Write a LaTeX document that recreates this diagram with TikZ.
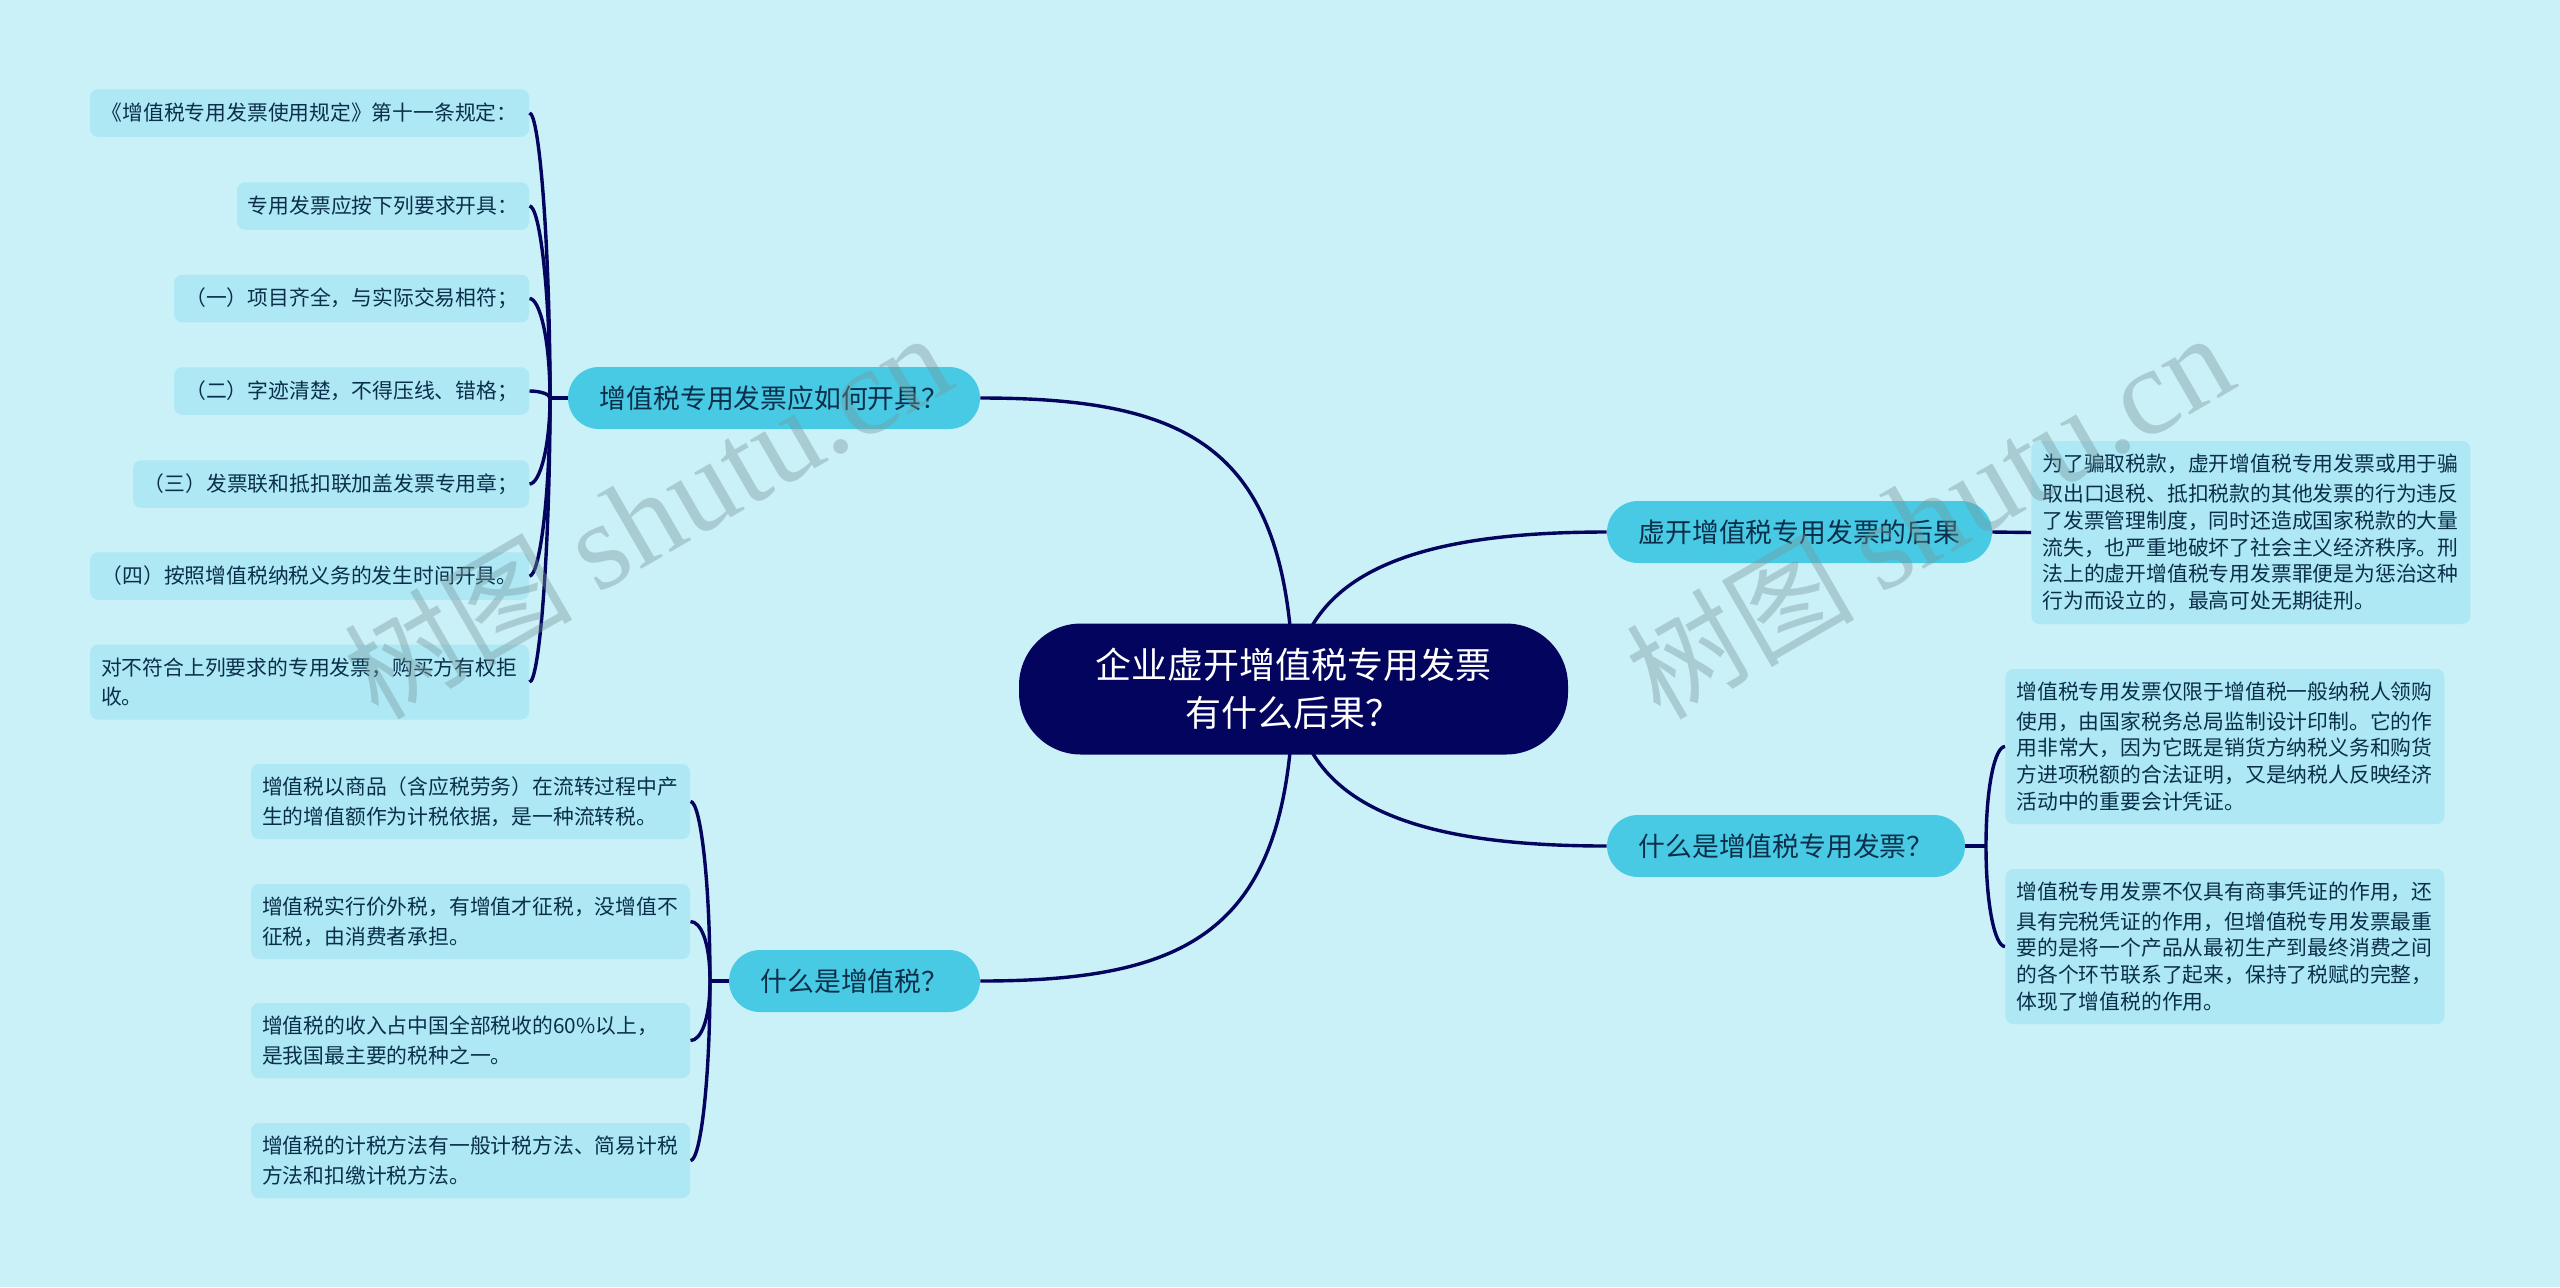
\documentclass[tikz,border=0pt]{standalone}
\usepackage{fontspec}
\setmainfont{Noto Sans CJK SC}
\newfontfamily\wmfont{Liberation Serif}
\usetikzlibrary{backgrounds}
\definecolor{bgblue}{HTML}{CAF0F8}
\definecolor{leafblue}{HTML}{ADE8F4}
\definecolor{hubblue}{HTML}{48CAE4}
\definecolor{navy}{HTML}{03045E}
\definecolor{inkdark}{HTML}{0B2F4A}
\definecolor{wmgrey}{RGB}{118,151,154}
\tikzset{
    root/.style={fill=navy, text=white, align=center, rounded corners=31pt, minimum width=274.5pt, minimum height=65.5pt, font=\fontsize{18}{24}\selectfont},
    hub/.style={fill=hubblue, text=inkdark, rounded corners=15.5pt, minimum width=#1, minimum height=31pt, inner sep=0pt, font=\fontsize{13.4}{16}\selectfont},
    leaf/.style 2 args={fill=leafblue, text=inkdark, rounded corners=4pt, align=left, text width=#1, minimum height=#2, inner xsep=5.5pt, inner ysep=0pt, font=\fontsize{10.4}{13.4}\selectfont, execute at begin node={\vspace*{1.4pt}}},
    leafline/.style={fill=leafblue, text=inkdark, rounded corners=4pt, minimum width=#1, minimum height=23.75pt, inner sep=0pt, anchor=east, font=\fontsize{10.4}{13.4}\selectfont},
    link/.style={draw=navy, line width=1.7pt},
    wm/.style={text=wmgrey, opacity=0.4, rotate=30, inner sep=0pt}
}
\begin{document}
\begin{tikzpicture}[x=0.5pt,y=-0.5pt]
    \useasboundingbox (0,0) rectangle (2560,1287);
    \node[root] (root) at (1293.5,689) {企业虚开增值税专用发票\\有什么后果？};
    % hubs
    \node[hub=206pt] (hubA) at (774,398) {增值税专用发票应如何开具？};
    \node[hub=125.5pt] (hubB) at (854.5,981) {什么是增值税？};
    \node[hub=192.5pt] (hubC) at (1799.5,532) {虚开增值税专用发票的后果};
    \node[hub=179pt] (hubD) at (1786,846) {什么是增值税专用发票？};
    % leaves of hubA
    \node[leafline=219.5pt] (a1) at (529.5,113) {《增值税专用发票使用规定》第十一条规定：};
    \node[leafline=146pt] (a2) at (529.5,206) {专用发票应按下列要求开具：};
    \node[leafline=177.5pt] (a3) at (529.5,298.5) {（一）项目齐全，与实际交易相符；};
    \node[leafline=177.5pt] (a4) at (529.5,391) {（二）字迹清楚，不得压线、错格；};
    \node[leafline=198pt] (a5) at (529.5,484) {（三）发票联和抵扣联加盖发票专用章；};
    \node[leafline=219.5pt] (a6) at (529.5,576) {（四）按照增值税纳税义务的发生时间开具。};
    \node[leaf={208.5pt}{37.5pt}, anchor=east] (a7) at (529.5,682) {对不符合上列要求的专用发票，购买方有权拒\\收。};
    % leaves of hubB
    \node[leaf={208.5pt}{37.5pt}, anchor=east] (b1) at (690.5,801.5) {增值税以商品（含应税劳务）在流转过程中产\\生的增值额作为计税依据，是一种流转税。};
    \node[leaf={208.5pt}{37.5pt}, anchor=east] (b2) at (690.5,921.5) {增值税实行价外税，有增值才征税，没增值不\\征税，由消费者承担。};
    \node[leaf={208.5pt}{37.5pt}, anchor=east] (b3) at (690.5,1040.5) {增值税的收入占中国全部税收的60\%以上，\\是我国最主要的税种之一。};
    \node[leaf={208.5pt}{37.5pt}, anchor=east] (b4) at (690.5,1160.5) {增值税的计税方法有一般计税方法、简易计税\\方法和扣缴计税方法。};
    % leaf of hubC
    \node[leaf={208.5pt}{91.5pt}, anchor=west] (c1) at (2031,532.5) {为了骗取税款，虚开增值税专用发票或用于骗\\取出口退税、抵扣税款的其他发票的行为违反\\了发票管理制度，同时还造成国家税款的大量\\流失，也严重地破坏了社会主义经济秩序。刑\\法上的虚开增值税专用发票罪便是为惩治这种\\行为而设立的，最高可处无期徒刑。};
    % leaves of hubD
    \node[leaf={208.5pt}{77.5pt}, anchor=west] (d1) at (2005,746.5) {增值税专用发票仅限于增值税一般纳税人领购\\使用，由国家税务总局监制设计印制。它的作\\用非常大，因为它既是销货方纳税义务和购货\\方进项税额的合法证明，又是纳税人反映经济\\活动中的重要会计凭证。};
    \node[leaf={208.5pt}{77.5pt}, anchor=west] (d2) at (2005,946.5) {增值税专用发票不仅具有商事凭证的作用，还\\具有完税凭证的作用，但增值税专用发票最重\\要的是将一个产品从最初生产到最终消费之间\\的各个环节联系了起来，保持了税赋的完整，\\体现了增值税的作用。};
    % trunks
    \coordinate (trunkA) at (550,398);
    \coordinate (trunkB) at (710,981);
    \coordinate (trunkD) at (1986,846);
    \begin{pgfonlayer}{background}
        \fill[bgblue] (0,0) rectangle (2560,1287);
        % root to hubs
        \draw[link] (root.center) .. controls (1290,450) and (1195,398) .. (hubA.east);
        \draw[link] (root.center) .. controls (1290,928) and (1195,981) .. (hubB.east);
        \draw[link] (root.center) .. controls (1302,570) and (1420,532) .. (hubC.west);
        \draw[link] (root.center) .. controls (1302,808) and (1420,846) .. (hubD.west);
    \end{pgfonlayer}
    % hubA to its leaves
    \draw[link] (hubA.west) -- (trunkA);
    \draw[link] (trunkA) .. controls +(0,-150) and +(10,0) .. (a1.east);
    \draw[link] (trunkA) .. controls +(0,-110) and +(10,0) .. (a2.east);
    \draw[link] (trunkA) .. controls +(0,-60) and +(10,0) .. (a3.east);
    \draw[link] (trunkA) .. controls +(0,-4) and +(10,0) .. (a4.east);
    \draw[link] (trunkA) .. controls +(0,50) and +(10,0) .. (a5.east);
    \draw[link] (trunkA) .. controls +(0,100) and +(10,0) .. (a6.east);
    \draw[link] (trunkA) .. controls +(0,150) and +(10,0) .. (a7.east);
    % hubB to its leaves
    \draw[link] (hubB.west) -- (trunkB);
    \draw[link] (trunkB) .. controls +(0,-100) and +(10,0) .. (b1.east);
    \draw[link] (trunkB) .. controls +(0,-40) and +(10,0) .. (b2.east);
    \draw[link] (trunkB) .. controls +(0,40) and +(10,0) .. (b3.east);
    \draw[link] (trunkB) .. controls +(0,100) and +(10,0) .. (b4.east);
    % hubC to its leaf
    \draw[link] (hubC.east) -- (c1.west);
    % hubD to its leaves
    \draw[link] (hubD.east) -- (trunkD);
    \draw[link] (trunkD) .. controls +(0,-60) and +(-10,0) .. (d1.west);
    \draw[link] (trunkD) .. controls +(0,60) and +(-10,0) .. (d2.west);
    % watermarks
    \node[wm] (wmA) at (647,516) {\fontsize{57}{60}\selectfont 树图 \wmfont\fontsize{62}{60}\selectfont shutu.cn};
    \node[wm] (wmB) at (1929,516) {\fontsize{57}{60}\selectfont 树图 \wmfont\fontsize{62}{60}\selectfont shutu.cn};
\end{tikzpicture}
\end{document}
